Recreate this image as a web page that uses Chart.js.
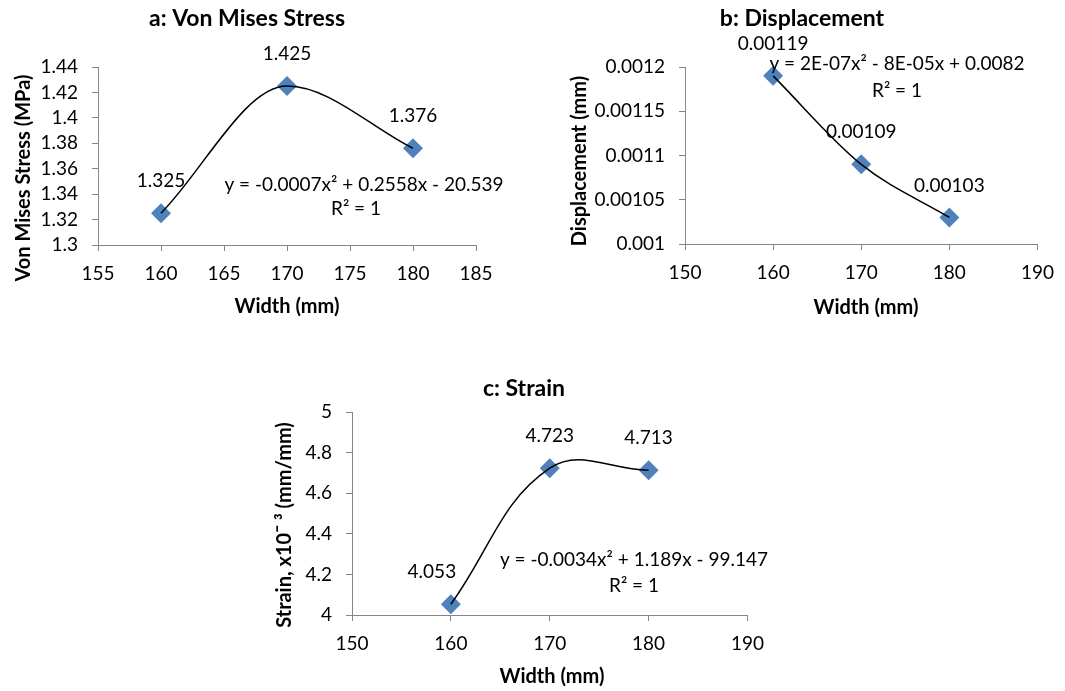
<!DOCTYPE html>
<html>
<head>
<meta charset="utf-8">
<script src="https://cdn.jsdelivr.net/npm/chart.js@4"></script>
<style>
  html, body { margin: 0; padding: 0; background: #fff; }
  body { width: 1065px; height: 691px; position: relative; overflow: hidden; }
  canvas { position: absolute; }
</style>
</head>
<body>
<canvas id="chartA" width="520" height="330" style="left:0px;top:0px;width:520px;height:330px"></canvas>
<canvas id="chartB" width="545" height="330" style="left:520px;top:0px;width:545px;height:330px"></canvas>
<canvas id="chartC" width="505" height="331" style="left:270px;top:360px;width:505px;height:331px"></canvas>
<script>
// data
const widths = [160, 170, 180]
const stress = [1.325, 1.425, 1.376]
const displacement = [0.00119, 0.00109, 0.00103]
const strain = [4.053, 4.723, 4.713]

const stressXTicks = [155, 160, 165, 170, 175, 180, 185]
const stressYTicks = [1.3, 1.32, 1.34, 1.36, 1.38, 1.4, 1.42, 1.44]
const dispXTicks = [150, 160, 170, 180, 190]
const dispYTicks = [0.001, 0.00105, 0.0011, 0.00115, 0.0012]
const strainXTicks = [150, 160, 170, 180, 190]
const strainYTicks = [4, 4.2, 4.4, 4.6, 4.8, 5]

const FONT = 'Lato, "Open Sans", sans-serif'
const AXIS = '#868686'
const BLUE = '#4F81BD'

// free text (titles, equations) placed in page coordinates
const textPlugin = {
  id: 'texts',
  afterDraw(chart, args, opts) {
    const ctx = chart.ctx
    const [ox, oy] = opts.origin
    ctx.save()
    ctx.fillStyle = '#000'
    ctx.textAlign = 'center'
    ctx.textBaseline = 'middle'
    for (const t of opts.items) {
      ctx.save()
      ctx.translate(t.x - ox, t.y - oy)
      if (t.rotate) ctx.rotate(-Math.PI / 2)
      ctx.font = t.font
      ctx.fillText(t.text, 0, 0)
      ctx.restore()
    }
    ctx.restore()
  }
}

// value labels above the markers
const labelPlugin = {
  id: 'pointLabels',
  afterDatasetsDraw(chart, args, opts) {
    const ctx = chart.ctx
    const ds = chart.data.datasets[1]
    ctx.save()
    ctx.font = '19px ' + FONT
    ctx.fillStyle = '#000'
    ctx.textAlign = 'center'
    ctx.textBaseline = 'middle'
    chart.getDatasetMeta(1).data.forEach((el, i) => {
      ctx.fillText(String(ds.data[i].y), el.x + (opts.shift[i] || 0), el.y - 32)
    })
    ctx.restore()
  }
}

function axis(ticks, dir, size) {
  return {
    type: 'linear',
    min: ticks[0],
    max: ticks[ticks.length - 1],
    afterBuildTicks: s => { s.ticks = ticks.map(v => ({ value: v })) },
    afterFit: s => { if (dir === 'x') s.height = size; else s.width = size },
    grid: { drawOnChartArea: false, drawTicks: true, tickLength: 6, tickColor: AXIS },
    border: { color: AXIS, width: 1 },
    ticks: {
      autoSkip: false, maxRotation: 0, color: '#000',
      padding: dir === 'x' ? 11 : 14,
      font: { family: FONT, size: 19 },
      callback: v => String(v)
    }
  }
}

function makeChart(id, o) {
  const points = widths.map((x, i) => ({ x: x, y: o.values[i] }))
  return new Chart(document.getElementById(id), {
    type: 'scatter',
    data: {
      datasets: [
        // trend line, drawn on top of the markers
        {
          data: points, showLine: true, borderColor: '#000', borderWidth: 1.5,
          tension: o.tension || 0, cubicInterpolationMode: o.curve || 'default',
          pointRadius: 0, pointHoverRadius: 0
        },
        { data: points, pointStyle: 'rectRot', pointRadius: 10, pointHoverRadius: 10, backgroundColor: BLUE, borderColor: BLUE, borderWidth: 0 }
      ]
    },
    options: {
      responsive: false,
      animation: false,
      events: [],
      layout: { padding: o.padding },
      plugins: {
        legend: { display: false },
        tooltip: { enabled: false },
        texts: { origin: o.origin, items: o.texts },
        pointLabels: { shift: o.shift || [] }
      },
      scales: {
        x: axis(o.xTicks, 'x', 40),
        y: axis(o.yTicks, 'y', o.yWidth)
      }
    },
    plugins: [textPlugin, labelPlugin]
  })
}

const TITLE = 'bold 23px ' + FONT
const AXT = 'bold 20px ' + FONT
const EQ = '19px ' + FONT

makeChart('chartA', {
  values: stress, xTicks: stressXTicks, yTicks: stressYTicks,
  origin: [0, 0], yWidth: 98, curve: 'monotone',
  padding: { left: 0, top: 67, right: 44, bottom: 45 },
  texts: [
    { text: 'a: Von Mises Stress', x: 247, y: 19, font: TITLE },
    { text: 'Von Mises Stress (MPa)', x: 24, y: 178, font: AXT, rotate: true },
    { text: 'Width (mm)', x: 287, y: 307, font: AXT },
    { text: 'y = -0.0007x² + 0.2558x - 20.539', x: 364, y: 185, font: EQ },
    { text: 'R² = 1', x: 356, y: 209, font: EQ }
  ]
})

makeChart('chartB', {
  values: displacement, xTicks: dispXTicks, yTicks: dispYTicks,
  origin: [520, 0], yWidth: 165, curve: 'monotone',
  padding: { left: 0, top: 67, right: 22, bottom: 46 },
  texts: [
    { text: 'b: Displacement', x: 802, y: 19, font: TITLE },
    { text: 'Displacement (mm)', x: 580, y: 161, font: AXT, rotate: true },
    { text: 'Width (mm)', x: 866, y: 308, font: AXT },
    { text: 'y = 2E-07x² - 8E-05x + 0.0082', x: 897, y: 64, font: EQ },
    { text: 'R² = 1', x: 897, y: 91, font: EQ }
  ]
})

makeChart('chartC', {
  values: strain, xTicks: strainXTicks, yTicks: strainYTicks,
  origin: [270, 360], yWidth: 82, shift: [-19, 0, 0], tension: 0.4,
  padding: { left: 0, top: 52, right: 22, bottom: 36 },
  texts: [
    { text: 'c: Strain', x: 524, y: 389, font: TITLE },
    { text: 'Strain, x10ˉ ³ (mm/mm)', x: 285, y: 525, font: AXT, rotate: true },
    { text: 'Width (mm)', x: 552, y: 677, font: AXT },
    { text: 'y = -0.0034x² + 1.189x - 99.147', x: 634, y: 560, font: EQ },
    { text: 'R² = 1', x: 634, y: 586, font: EQ }
  ]
})
</script>
</body>
</html>
